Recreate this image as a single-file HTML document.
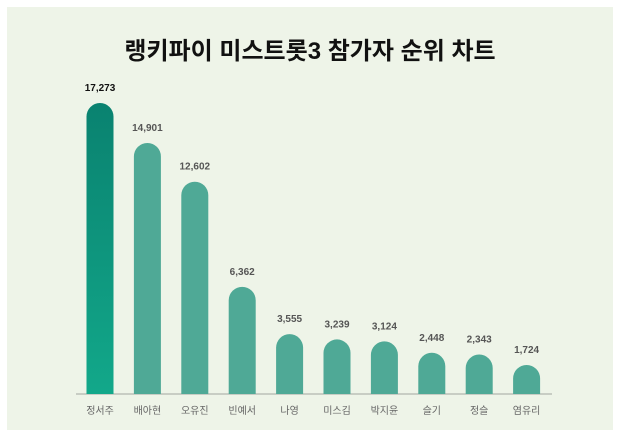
<!DOCTYPE html>
<html><head><meta charset="utf-8">
<style>
html,body{margin:0;padding:0;background:#fff;width:620px;height:438px;overflow:hidden}
svg{display:block;font-family:"Liberation Sans","Noto Sans CJK KR",sans-serif}
</style></head><body>
<svg width="620" height="438" viewBox="0 0 620 438">
<defs>
<linearGradient id="g1" x1="0" y1="0" x2="0" y2="1">
<stop offset="0" stop-color="#0a8270"/><stop offset="1" stop-color="#12a88a"/>
</linearGradient>
</defs>
<rect x="7" y="7" width="606" height="423" fill="#eef4e8"/>
<text x="310" y="59" text-anchor="middle" font-size="24" font-weight="bold" fill="#111">랭키파이 미스트롯3 참가자 순위 차트</text>
<line x1="76" y1="394" x2="552" y2="394" stroke="#c8cdc4" stroke-width="2"/>
<g id="bars"></g>
</svg>
<script>
const categories=["정서주","배아현","오유진","빈예서","나영","미스김","박지윤","슬기","정슬","염유리"];
const values=[17273,14901,12602,6362,3555,3239,3124,2448,2343,1724];
const valueLabels=["17,273","14,901","12,602","6,362","3,555","3,239","3,124","2,448","2,343","1,724"];
const NS="http://www.w3.org/2000/svg";
const g=document.getElementById("bars");
const base=394, maxH=291, maxV=17273, x0=100, step=47.4, bw=27;
const y=v=>base-v/maxV*maxH;
const xc=i=>x0+i*step;
categories.forEach((c,i)=>{
  const top=y(values[i]), r=bw/2, l=xc(i)-r;
  const p=document.createElementNS(NS,"path");
  p.setAttribute("d",`M${l},${base}V${top+r}A${r},${r} 0 0 1 ${l+bw},${top+r}V${base}Z`);
  p.setAttribute("fill",i===0?"url(#g1)":"#4fa996");
  
  
  g.appendChild(p);
  const t=document.createElementNS(NS,"text");
  t.setAttribute("x",xc(i));t.setAttribute("y",top-12);
  t.setAttribute("text-anchor","middle");t.setAttribute("font-size","10");t.setAttribute("font-weight","bold");
  t.setAttribute("fill",i===0?"#111":"#555");
  t.textContent=valueLabels[i];
  
  
  g.appendChild(t);
  const cl=document.createElementNS(NS,"text");
  cl.setAttribute("x",xc(i));cl.setAttribute("y",414);
  cl.setAttribute("text-anchor","middle");cl.setAttribute("font-size","10");cl.setAttribute("fill","#666");
  cl.textContent=c;
  
  
  g.appendChild(cl);
});
</script>
</body></html>
